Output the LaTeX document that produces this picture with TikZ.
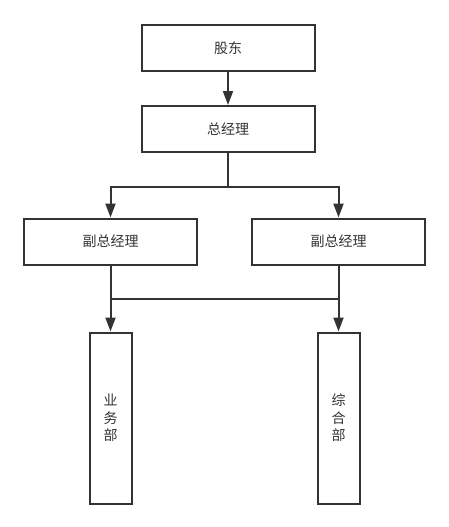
\documentclass[tikz,border=0pt]{standalone}
\usepackage{fontspec}
\newfontfamily\cjk{Noto Sans CJK SC}
\usetikzlibrary{arrows.meta,positioning}
\definecolor{linegray}{HTML}{333333}

\begin{document}
\begin{tikzpicture}
[x=1pt,y=-1pt,
      font=\cjk\fontsize{14}{17.5}\selectfont,
      every node/.style={draw=linegray,line width=2pt,text=linegray,inner sep=0pt},
      wide/.style={minimum width=173pt,minimum height=46pt},
      tall/.style={minimum width=42pt,minimum height=171pt,align=center},
      arr/.style={draw=linegray,line width=2pt,-{Triangle[length=14pt,width=10pt]}},
      lin/.style={draw=linegray,line width=2pt}]
 \useasboundingbox (0,0) rectangle (448,527);
 \node[wide] (gudong) at (228,48) {股东};
 \node[wide,below=33pt of gudong] (zjl) {总经理};
 \node[wide] (fzl) at (110.5,241.5) {副总经理};
 \node[wide] (fzr) at (338.5,241.5) {副总经理};
 \node[tall,below=66pt of fzl] (yewu) {业\\务\\部};
 \node[tall,below=66pt of fzr] (zonghe) {综\\合\\部};
 % arrows
 \draw[arr] (gudong) -- (zjl);
 \draw[arr] (zjl.south) -- ++(0,34) -| (fzl.north);
 \draw[arr] (zjl.south) -- ++(0,34) -| (fzr.north);
 \draw[lin] (fzl.south) -- ++(0,33) -| (fzr.south);
 \draw[arr] (fzl.south) -- (yewu.north);
 \draw[arr] (fzr.south) -- (zonghe.north);
\end{tikzpicture}
\end{document}
